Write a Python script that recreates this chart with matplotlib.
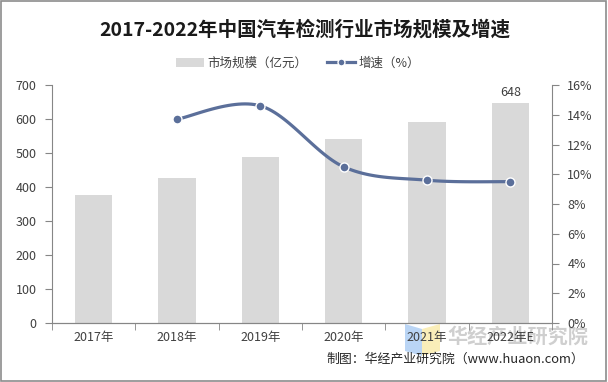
import numpy as np
import matplotlib.pyplot as plt
from matplotlib.lines import Line2D
from matplotlib.patches import Patch, Rectangle, Polygon

plt.rcParams['font.family'] = ['Noto Sans CJK SC', 'DejaVu Sans']

# data
years = ['2017年', '2018年', '2019年', '2020年', '2021年', '2022年E']
market = [376, 426, 488, 541, 591, 648]
growth_years = ['2018年', '2019年', '2020年', '2021年', '2022年E']
growth = [13.7, 14.6, 10.5, 9.6, 9.5]

bar_color = '#d9d9d9'
line_color = '#5b6f9a'
axis_color = '#868686'
text_color = '#404040'

W, H = 608, 382


def smooth(x, y, n=30):
    # Catmull-Rom style smoothing like Excel's smoothed line
    x = np.asarray(x, float)
    y = np.asarray(y, float)
    px = np.concatenate([[x[0]], x, [x[-1]]])
    py = np.concatenate([[y[0]], y, [y[-1]]])
    xs, ys = [], []
    for i in range(1, len(px) - 2):
        t = np.linspace(0, 1, n)
        for p, out in ((px, xs), (py, ys)):
            p0, p1, p2, p3 = p[i - 1], p[i], p[i + 1], p[i + 2]
            out.extend(0.5 * (2 * p1 + (-p0 + p2) * t
                              + (2 * p0 - 5 * p1 + 4 * p2 - p3) * t ** 2
                              + (-p0 + 3 * p1 - 3 * p2 + p3) * t ** 3))
    return np.array(xs), np.array(ys)


def fpt(px, py):
    # pixel position -> figure fraction
    return (px / W, 1 - py / H)


fig = plt.figure(figsize=(W / 100, H / 100), dpi=100)
fig.patches.append(Rectangle((0.002, 0.003), 0.995, 0.994, transform=fig.transFigure,
                             fill=False, edgecolor='#8c8c8c', linewidth=1.2))

# watermark with logo, behind the axes labels
fig.patches.append(Polygon([fpt(405, 324), fpt(422, 329), fpt(422, 356), fpt(405, 351)],
                           closed=True, transform=fig.transFigure, facecolor='#a9cbf3',
                           edgecolor='none', alpha=0.8, zorder=-2))
fig.patches.append(Polygon([fpt(422, 329), fpt(440, 324), fpt(440, 351), fpt(422, 356)],
                           closed=True, transform=fig.transFigure, facecolor='#f9eaa8',
                           edgecolor='none', alpha=0.8, zorder=-2))
fig.text(*fpt(447, 336), '华经产业研究院', ha='left', va='center', fontsize=14.5,
         fontweight='bold', color='#c4c4c4', alpha=0.8, zorder=-2)

ax = fig.add_axes([52 / W, 1 - 323 / H, 500 / W, 238 / H])
x = np.arange(len(years))
ax.bar(x, market, width=0.45, color=bar_color, zorder=1)
ax.set_xlim(-0.5, len(years) - 0.5)
ax.set_ylim(0, 700)
ax.set_yticks(range(0, 701, 100))
ax.set_xticks(x)
ax.set_xticklabels(years)
ax.set_xticks(np.arange(-0.5, len(years), 1), minor=True)
ax.tick_params(axis='x', which='major', length=0, pad=6, labelsize=9, labelcolor=text_color)
ax.tick_params(axis='x', which='minor', length=5, color=axis_color, direction='out')
ax.tick_params(axis='y', length=5, color=axis_color, labelsize=9, labelcolor=text_color, pad=6)
ax.text(x[-1], market[-1] + 10, str(market[-1]), ha='center', va='bottom', fontsize=9, color=text_color)

ax2 = ax.twinx()
ax2.set_ylim(0, 16)
ax2.set_yticks(range(0, 17, 2))
ax2.set_yticklabels([f'{v}%' for v in range(0, 17, 2)])
ax2.tick_params(axis='y', length=5, color=axis_color, labelsize=9, labelcolor=text_color, pad=6)
gx = [years.index(g) for g in growth_years]
sx, sy = smooth(gx, growth)
ax2.plot(sx, sy, color=line_color, linewidth=2.3, solid_capstyle='round', zorder=3)
ax2.plot(gx, growth, 'o', color=line_color, markersize=6.5, markeredgecolor='white',
         markeredgewidth=1, zorder=4)

for a in (ax, ax2):
    a.spines['top'].set_visible(False)
    for s in ('left', 'right', 'bottom'):
        a.spines[s].set_color(axis_color)
ax.spines['right'].set_visible(False)
ax2.spines['left'].set_visible(False)

fig.text(*fpt(305, 30), '2017-2022年中国汽车检测行业市场规模及增速', ha='center', va='center',
         fontsize=14, fontweight='bold', color='#1a1a1a')

handles = [Patch(facecolor=bar_color, edgecolor='none', label='市场规模（亿元）'),
           Line2D([0], [0], color=line_color, linewidth=2.3, marker='o', markersize=5,
                  markeredgecolor='white', label='增速（%）')]
fig.legend(handles=handles, loc='center', bbox_to_anchor=fpt(298, 63), ncol=2,
           frameon=False, fontsize=9, handlelength=2.2, columnspacing=1.6,
           handletextpad=0.3, labelcolor=text_color)

fig.text(*fpt(584, 359), '制图：华经产业研究院（www.huaon.com）', ha='right', va='center',
         fontsize=9.3, color='#262626')

fig.savefig('out.png', dpi=100)
